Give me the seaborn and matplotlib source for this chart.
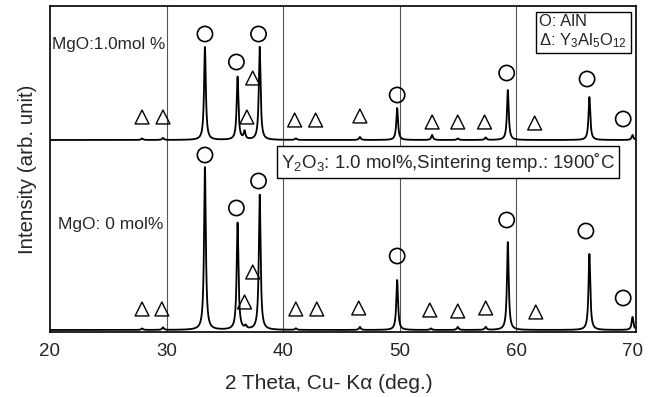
import numpy as np
import pandas as pd
import matplotlib
matplotlib.use("Agg")
import matplotlib.pyplot as plt
import seaborn as sns

# Peak positions (2theta, deg) and heights (arb.)
peak_pos_0 = [27.9, 29.7, 33.3, 36.1, 36.8, 38.0, 41.1, 46.6, 49.8, 52.7, 55.0, 57.4, 59.3, 66.3, 70.0]
peak_h_0   = [1.5, 2.5, 163, 107, 3, 135, 1.5, 3, 50, 1.5, 3, 3, 88, 76, 13]
peak_pos_1 = [27.9, 29.7, 33.3, 36.1, 36.7, 38.0, 41.1, 46.6, 49.8, 52.8, 55.0, 57.4, 59.3, 66.3, 70.0]
peak_h_1   = [1.5, 2, 93, 63, 8, 93, 1.5, 3, 32, 5, 1.5, 2.5, 50, 43, 5]
peak_width = 0.09
offset_1 = 192

# Phase markers (x, y)
circ_x = [33.3, 36.0, 37.9, 49.8, 59.2, 66.1, 69.2,
          33.3, 36.0, 37.9, 49.8, 59.2, 66.0, 69.2]
circ_y = [298, 270, 298, 237, 259, 253, 213,
          177, 124, 151, 76, 112, 101, 34]
tri_x = [27.9, 29.7, 36.9, 37.4, 41.0, 42.8, 46.6, 52.8, 55.0, 57.3, 61.6,
         27.9, 29.6, 36.7, 37.4, 41.1, 42.9, 46.5, 52.6, 55.0, 57.4, 61.7]
tri_y = [215, 215, 215, 254, 212, 212, 216, 210, 210, 210, 209,
         23, 23, 30, 60, 23, 23, 24, 22, 21, 24, 20]

x = np.linspace(20, 70.2, 6000)

def profile(pos, h):
    y = np.zeros_like(x)
    for p, hh in zip(pos, h):
        y += hh / (1 + ((x - p) / peak_width) ** 2)
    return y

df0 = pd.DataFrame({"x": x, "y": profile(peak_pos_0, peak_h_0) + 2})
df1 = pd.DataFrame({"x": x, "y": profile(peak_pos_1, peak_h_1) + offset_1})

sns.set_theme(style="white")
plt.rcParams['font.family'] = ['Liberation Sans', 'DejaVu Sans']
plt.rcParams['mathtext.fontset'] = 'custom'
plt.rcParams['mathtext.rm'] = 'Liberation Sans'
plt.rcParams['mathtext.it'] = 'Liberation Sans'

fig = plt.figure(figsize=(6.53, 3.97), dpi=100)
ax = fig.add_axes([50/653, 1 - 332/397, 586/653, 326/397])

for xv in [30, 40, 50, 60]:
    ax.axvline(xv, color="#555555", lw=0.8, zorder=0)

sns.lineplot(data=df0, x="x", y="y", ax=ax, color="black", lw=1.3)
sns.lineplot(data=df1, x="x", y="y", ax=ax, color="black", lw=1.3)

ax.scatter(circ_x, circ_y, s=120, marker="o", facecolors="none", edgecolors="black", linewidths=1.2, zorder=5)
ax.scatter(tri_x, tri_y, s=100, marker="^", facecolors="none", edgecolors="black", linewidths=1.0, zorder=5)

ax.set_xlim(20, 70.3)
ax.set_ylim(0, 326)
ax.set_xticks([20, 30, 40, 50, 60, 70])
ax.set_xticklabels(["20", "30", "40", "50", "60", "70"], fontsize=13.5)
ax.set_yticks([])
ax.tick_params(axis="x", length=0, pad=8)
for s in ax.spines.values():
    s.set_color("black")
    s.set_linewidth(1.2)

ax.set_xlabel("2 Theta, Cu- Kα (deg.)", fontsize=15, labelpad=11)
ax.xaxis.set_label_coords(0.475, -0.13)
ax.set_ylabel("Intensity (arb. unit)", fontsize=14.8, labelpad=9)

ax.text(20.2, 287, "MgO:1.0mol %", fontsize=12.3, va="center", ha="left")
ax.text(20.7, 107, "MgO: 0 mol%", fontsize=12.5, va="center", ha="left")

ax.text(39.8, 170, r"Y$_2$O$_3$: 1.0 mol%,Sintering temp.: 1900˚C", fontsize=13.4,
        va="center", ha="left",
        bbox=dict(boxstyle="square,pad=0.22", fc="white", ec="black", lw=1.0))

ax.text(62.0, 300, "O: AlN\n" + r"Δ: Y$_3$Al$_5$O$_{12}$", fontsize=12,
        va="center", ha="left", linespacing=1.15,
        bbox=dict(boxstyle="square,pad=0.2", fc="white", ec="black", lw=1.0))

fig.savefig("out.png", dpi=100)
